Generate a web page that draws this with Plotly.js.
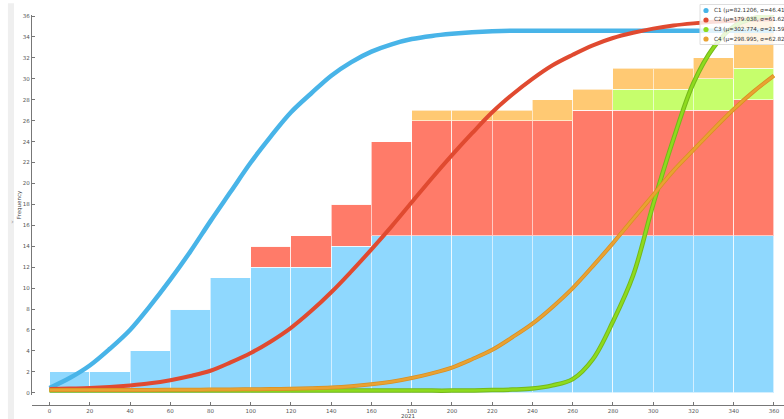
<!DOCTYPE html>
<html>
<head>
<meta charset="utf-8">
<script src="https://cdn.plot.ly/plotly-3.0.1.min.js"></script>
<style>
  html, body { margin: 0; padding: 0; background: #fff; }
  #chart { width: 784px; height: 419px; }
</style>
</head>
<body>
<div id="chart"></div>
<script>
// Histogram bins (centers of 20-wide bins)
const binCenters = [10,30,50,70,90,110,130,150,170,190,210,230,250,270,290,310,330,350];
// Stacked cumulative counts per cluster
const c1Counts = [2,2,4,8,11,12,12,14,15,15,15,15,15,15,15,15,15,15];
const c2Counts = [0,0,0,0,0,2,3,4,9,11,11,11,11,12,12,12,12,13];
const c3Counts = [0,0,0,0,0,0,0,0,0,0,0,0,0,0,2,2,3,3];
const c4Counts = [0,0,0,0,0,0,0,0,0,1,1,1,2,2,2,2,2,5];

// Fitted curves sampled every 10 units
const curveX = [0,10,20,30,40,50,60,70,80,90,100,110,120,130,140,150,160,170,180,190,200,210,220,230,240,250,260,270,280,290,300,310,320,330,340,350,360];
const c1Curve = [0.45,1.4,2.6,4.2,6.0,8.3,10.8,13.5,16.4,19.2,22.0,24.5,26.8,28.6,30.3,31.6,32.6,33.3,33.8,34.1,34.3,34.45,34.55,34.6,34.6,34.6,34.6,34.6,34.6,34.6,34.6,34.6,34.6,34.6,34.6,34.6,34.6];
const c2Curve = [0.35,0.4,0.45,0.55,0.7,0.9,1.2,1.6,2.1,2.9,3.8,4.9,6.2,7.8,9.6,11.6,13.7,15.9,18.2,20.5,22.7,24.8,26.8,28.5,30.0,31.3,32.3,33.2,33.9,34.4,34.8,35.1,35.3,35.45,35.55,35.65,35.7];
const c3Curve = [0.2,0.2,0.2,0.2,0.2,0.2,0.2,0.2,0.2,0.2,0.2,0.2,0.2,0.2,0.2,0.2,0.2,0.2,0.2,0.2,0.2,0.22,0.25,0.3,0.4,0.7,1.3,3.2,6.8,11.2,18.0,24.2,29.6,33.0,35.0,35.8,36.2];
const c4Curve = [0.25,0.25,0.26,0.26,0.27,0.27,0.28,0.29,0.3,0.31,0.33,0.35,0.38,0.43,0.5,0.62,0.8,1.05,1.4,1.85,2.4,3.2,4.1,5.3,6.6,8.2,10.0,12.1,14.3,16.6,18.9,21.2,23.2,25.2,27.1,28.8,30.3];

const legendNames = ["C1 (\u03bc=82.1206, \u03c3=46.4114)", "C2 (\u03bc=179.038, \u03c3=61.6273)", "C3 (\u03bc=302.774, \u03c3=21.5993)", "C4 (\u03bc=298.995, \u03c3=62.8218)"];
const yTicks = [0,2,4,6,8,10,12,14,16,18,20,22,24,26,28,30,32,34,36];

const barColors = ["#8fd8fe", "#ff7b69", "#c6fe6c", "#ffc973"];
const lineColors = ["#48b4e8", "#e04a30", "#8edb1e", "#e9a232"];

function bar(y, color) {
  return { type: "bar", x: binCenters, y: y, width: 20, showlegend: false, hoverinfo: "skip",
    marker: { color: color, line: { color: "rgba(255,255,255,0.6)", width: 1 } } };
}
function line(y, color, w) {
  return { type: "scatter", mode: "lines", x: curveX, y: y, showlegend: false, hoverinfo: "skip",
    line: { color: color, width: w, shape: "spline" } };
}

const data = [
  bar(c1Counts, barColors[0]), bar(c2Counts, barColors[1]), bar(c3Counts, barColors[2]), bar(c4Counts, barColors[3]),
  line(c1Curve, lineColors[0], 4.5),
  line(c2Curve, lineColors[1], 4),
  line(c3Curve, "#74b81a", 4.5), line(c3Curve, lineColors[2], 2.5),
  line(c4Curve, "#d98f22", 4), line(c4Curve, lineColors[3], 2.5)
];

// Manual legend (compact rows, like the reference)
const plotTop = 15, plotH = 390, plotL = 32, plotW = 752;
const px2x = p => (p - plotL) / plotW;
const py2y = p => (plotTop + plotH - p) / plotH;
const legendRowsPy = [10.5, 20, 29.5, 39];

const shapes = [
  { type: "rect", xref: "paper", yref: "paper", x0: -0.032, x1: -0.024, y0: -0.04, y1: 1.03,
    fillcolor: "#efefef", line: { width: 0 }, layer: "below" },
  { type: "rect", xref: "paper", yref: "paper", x0: px2x(700), x1: px2x(790), y0: py2y(44.5), y1: py2y(4.5),
    fillcolor: "rgba(255,255,255,0.82)", line: { color: "#dedede", width: 1 }, layer: "above" }
];
const annotations = [
  { text: "\u203a", xref: "paper", yref: "paper", x: -0.031, y: 0.47, showarrow: false,
    font: { size: 7, color: "#999" } }
];
legendNames.forEach((name, i) => {
  const yy = py2y(legendRowsPy[i]);
  shapes.push({ type: "circle", xref: "paper", yref: "paper", xsizemode: "pixel", ysizemode: "pixel",
    xanchor: px2x(706), yanchor: yy, x0: -2.6, x1: 2.6, y0: -2.6, y1: 2.6,
    fillcolor: lineColors[i], line: { width: 0 }, layer: "above" });
  annotations.push({ text: name, xref: "paper", yref: "paper", x: px2x(712), y: yy,
    xanchor: "left", yanchor: "middle", showarrow: false, font: { size: 5.6, color: "#333" } });
});

const layout = {
  width: 784, height: 419,
  margin: { l: plotL, r: 0, t: plotTop, b: 14 },
  paper_bgcolor: "#fff", plot_bgcolor: "#fff",
  barmode: "stack", bargap: 0,
  hovermode: false, showlegend: false,
  font: { family: "DejaVu Sans, sans-serif", size: 6, color: "#444" },
  xaxis: {
    range: [-8.7, 365], tick0: 0, dtick: 20, showgrid: false, zeroline: false,
    showline: true, linecolor: "#777", linewidth: 1.2,
    ticks: "inside", ticklen: 3, tickcolor: "#777",
    tickfont: { size: 5.5, color: "#555" },
    anchor: "free", position: 0, automargin: false,
    title: { text: "2021", font: { size: 5.5, color: "#444" }, standoff: 1 }
  },
  yaxis: {
    domain: [0.0256, 1], automargin: false,
    range: [-0.22, 36.1], tickvals: yTicks, showgrid: false, zeroline: false,
    showline: true, linecolor: "#777", linewidth: 1.2,
    ticks: "inside", ticklen: 3, tickcolor: "#777",
    tickfont: { size: 5.5, color: "#555" },
    title: { text: "Frequency", font: { size: 5.5, color: "#444" }, standoff: 0 }
  },
  shapes: shapes,
  annotations: annotations
};

Plotly.newPlot("chart", data, layout, { displayModeBar: false, staticPlot: true });
</script>
</body>
</html>
